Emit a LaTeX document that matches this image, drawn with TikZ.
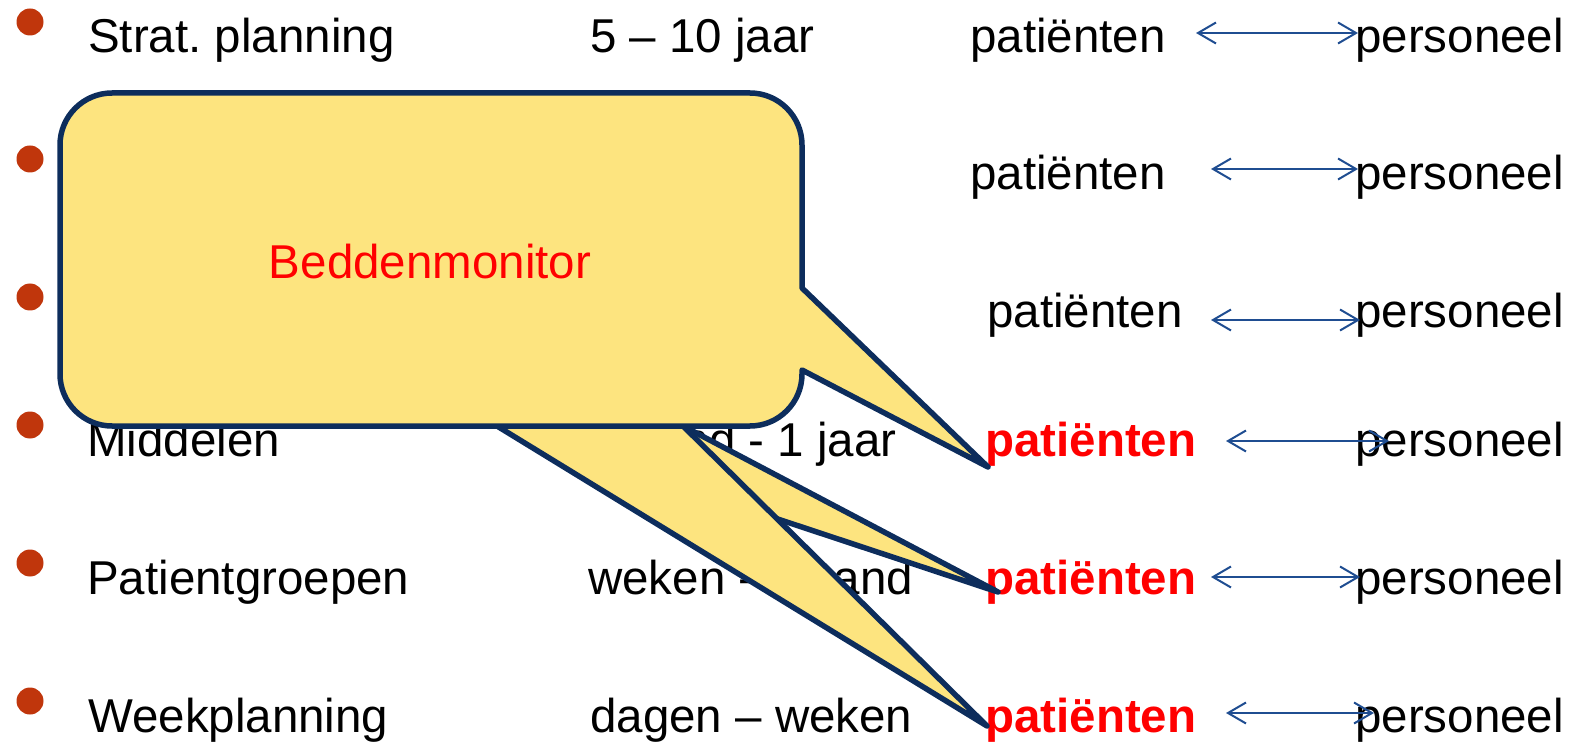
\documentclass[tikz,border=0pt]{standalone}
\usepackage{fontspec}
\setmainfont{Liberation Sans}
\usetikzlibrary{arrows.meta}
\frenchspacing
\definecolor{calloutfill}{HTML}{FDE47F}
\definecolor{calloutline}{HTML}{0D2D5C}
\definecolor{arrowblue}{HTML}{1F4D91}
\definecolor{bulletred}{HTML}{C0360C}
\tikzset{
  txt/.style={anchor=base west, inner sep=0pt, font=\fontsize{47.5}{56}\selectfont},
  hot/.style={txt, font=\fontsize{47.5}{56}\selectfont\bfseries, text=red},
  bulletdot/.style={circle, fill=bulletred, draw=none, minimum size=27pt, inner sep=0pt},
  dbl/.style={draw=arrowblue, line width=2pt,
    {Straight Barb[length=18pt,width=21pt]}-{Straight Barb[length=18pt,width=21pt]}},
  callout/.style={fill=calloutfill, draw=calloutline, line width=5.5pt, line join=round}
}
\begin{document}
\begin{tikzpicture}[x=1pt,y=-1pt]
\useasboundingbox (0,0) rectangle (1575,743);
% bullets
\node[bulletdot] (b1) at (30,22) {};
\node[bulletdot] (b2) at (30,159) {};
\node[bulletdot] (b3) at (30,297) {};
\node[bulletdot] (b4) at (30,425) {};
\node[bulletdot] (b5) at (30,563) {};
\node[bulletdot] (b6) at (30,701) {};
% row 1
\node[txt] (c11) at (88,53) {Strat. planning};
\node[txt] (c12) at (590,53) {5 -- 10 jaar};
\node[txt] (c13) at (970,53) {patiënten};
\node[txt] (c14) at (1355,53) {personeel};
% row 2
\node[txt] (c23) at (970,190) {patiënten};
\node[txt] (c24) at (1355,190) {personeel};
% row 3
\node[txt] (c33) at (987,328) {patiënten};
\node[txt] (c34) at (1355,328) {personeel};
% row 4
\node[txt] (c41) at (87,456) {Middelen};
\node[txt] (c42) at (590,456) {maand - 1 jaar};
\node[hot] (c43) at (985,456) {patiënten};
\node[txt] (c44) at (1355,456) {personeel};
% row 5
\node[txt] (c51) at (87,594) {Patientgroepen};
\node[txt] (c52) at (588,594) {weken - maand};
\node[hot] (c53) at (985,594) {patiënten};
\node[txt] (c54) at (1355,594) {personeel};
% row 6
\node[txt] (c61) at (88,732) {Weekplanning};
\node[txt] (c62) at (590,732) {dagen -- weken};
\node[hot] (c63) at (985,732) {patiënten};
\node[txt] (c64) at (1355,732) {personeel};
% arrows
\coordinate (a1l) at (1196,33);  \coordinate (a1r) at (1358,33);
\coordinate (a2l) at (1211,169); \coordinate (a2r) at (1358,169);
\coordinate (a3l) at (1211,320); \coordinate (a3r) at (1360,320);
\coordinate (a4l) at (1226,441); \coordinate (a4r) at (1389,441);
\coordinate (a5l) at (1211,577); \coordinate (a5r) at (1360,577);
\coordinate (a6l) at (1226,713); \coordinate (a6r) at (1374,713);
\draw[dbl] (a1l) -- (a1r);
\draw[dbl] (a2l) -- (a2r);
\draw[dbl] (a3l) -- (a3r);
\draw[dbl] (a4l) -- (a4r);
\draw[dbl] (a5l) -- (a5r);
\draw[dbl] (a6l) -- (a6r);
% callout pointers (lower layers)
\coordinate (t4) at (988,467);
\coordinate (t5) at (998,592);
\coordinate (t6) at (987,726);
\coordinate (bl) at (497,426);
\coordinate (br) at (683,426);
\filldraw[callout] (bl) -- (t5) -- (br) -- cycle;
\filldraw[callout] (bl) -- (t6) -- (br) -- cycle;
% main callout with right pointer
\filldraw[callout] (112,93) -- (750,93) .. controls (778.7,93) and (802,116.3) .. (802,145)
  -- (802,288) -- (t4) -- (802,370) -- (802,374)
  .. controls (802,402.7) and (778.7,426) .. (750,426)
  -- (112,426) .. controls (83.3,426) and (60,402.7) .. (60,374)
  -- (60,145) .. controls (60,116.3) and (83.3,93) .. (112,93) -- cycle;
\node[anchor=base, inner sep=0pt, font=\fontsize{47.5}{56}\selectfont, text=red] (bm) at (430,279) {Beddenmonitor};
\end{tikzpicture}
\end{document}
